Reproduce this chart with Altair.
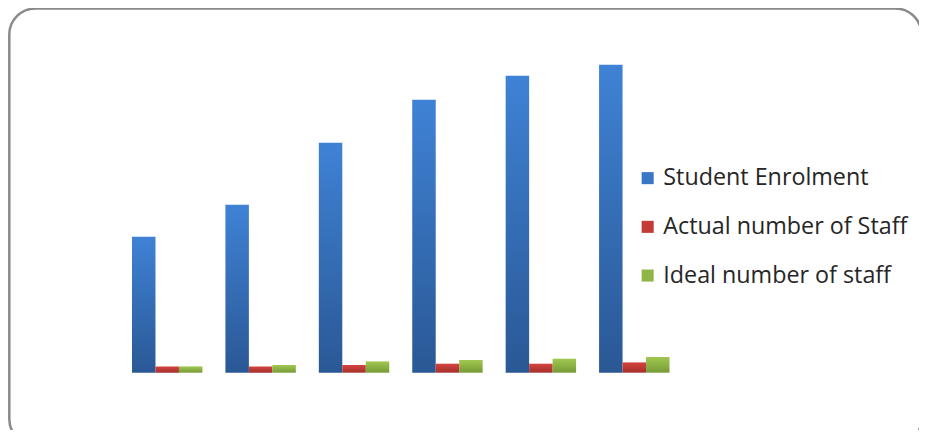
import altair as alt
import pandas as pd

groups = ["1", "2", "3", "4", "5", "6"]
series = ["Student Enrolment", "Actual number of Staff", "Ideal number of staff"]
enrolment = [1360, 1680, 2300, 2730, 2970, 3080]
actual_staff = [63, 63, 77, 90, 90, 103]
ideal_staff = [63, 77, 113, 127, 140, 157]
legend_colors = ["#3a76c6", "#c43a34", "#8fb546"]
gradients = [("#3f82d5", "#2a5895"), ("#d4433e", "#a5302c"), ("#a0c850", "#779a37")]

rows = []
for i, g in enumerate(groups):
    for s, vals in zip(series, [enrolment, actual_staff, ideal_staff]):
        rows.append({"group": g, "series": s, "value": vals[i]})
df = pd.DataFrame(rows)

x_enc = alt.X("group:N", sort=groups, axis=None,
              scale=alt.Scale(range=[112.5, 673], paddingInner=0.246, paddingOuter=0.123))
xo_enc = alt.XOffset("series:N", sort=series,
                     scale=alt.Scale(domain=series, paddingInner=0, paddingOuter=0))
y_enc = alt.Y("value:Q", axis=None,
              scale=alt.Scale(domain=[0, 3600], range=[364.7, 4.7], nice=False, zero=True))

border = alt.Chart(pd.DataFrame({"a": [0]})).mark_rect(
    cornerRadius=26, fill="white", stroke="#8a8a8a", strokeWidth=2.5, clip=False
).encode(x=alt.value(1.3), x2=alt.value(913.5), y=alt.value(0.6), y2=alt.value(437))

layers = [border]
for s, (top, bot) in zip(series, gradients):
    grad = alt.LinearGradient(
        gradient="linear", x1=0, y1=0, x2=0, y2=1,
        stops=[alt.GradientStop(offset=0, color=top), alt.GradientStop(offset=1, color=bot)],
    )
    layers.append(
        alt.Chart(df).transform_filter(alt.datum.series == s)
        .mark_bar(color=grad)
        .encode(x=x_enc, xOffset=xo_enc, y=y_enc)
    )

legend_layer = alt.Chart(df).mark_square(size=0, opacity=0).encode(
    x=x_enc, xOffset=xo_enc, y=y_enc,
    color=alt.Color("series:N", sort=series,
                    scale=alt.Scale(domain=series, range=legend_colors),
                    legend=alt.Legend(
                        title=None, orient="none", legendX=628, legendY=158.5,
                        symbolType="square", symbolSize=145, symbolOpacity=1,
                        symbolStrokeWidth=0, labelFont="Open Sans", labelFontSize=23.3,
                        labelColor="#262626", labelOffset=4, rowPadding=24.7, padding=0,
                        labelLimit=400)),
)
layers.append(legend_layer)

chart = alt.layer(*layers).properties(
    width=911, height=422,
    autosize=alt.AutoSizeParams(type="none"), padding=0,
).configure_view(stroke="transparent")

chart.save("out.html", embed_options={"renderer": "svg", "actions": False})
